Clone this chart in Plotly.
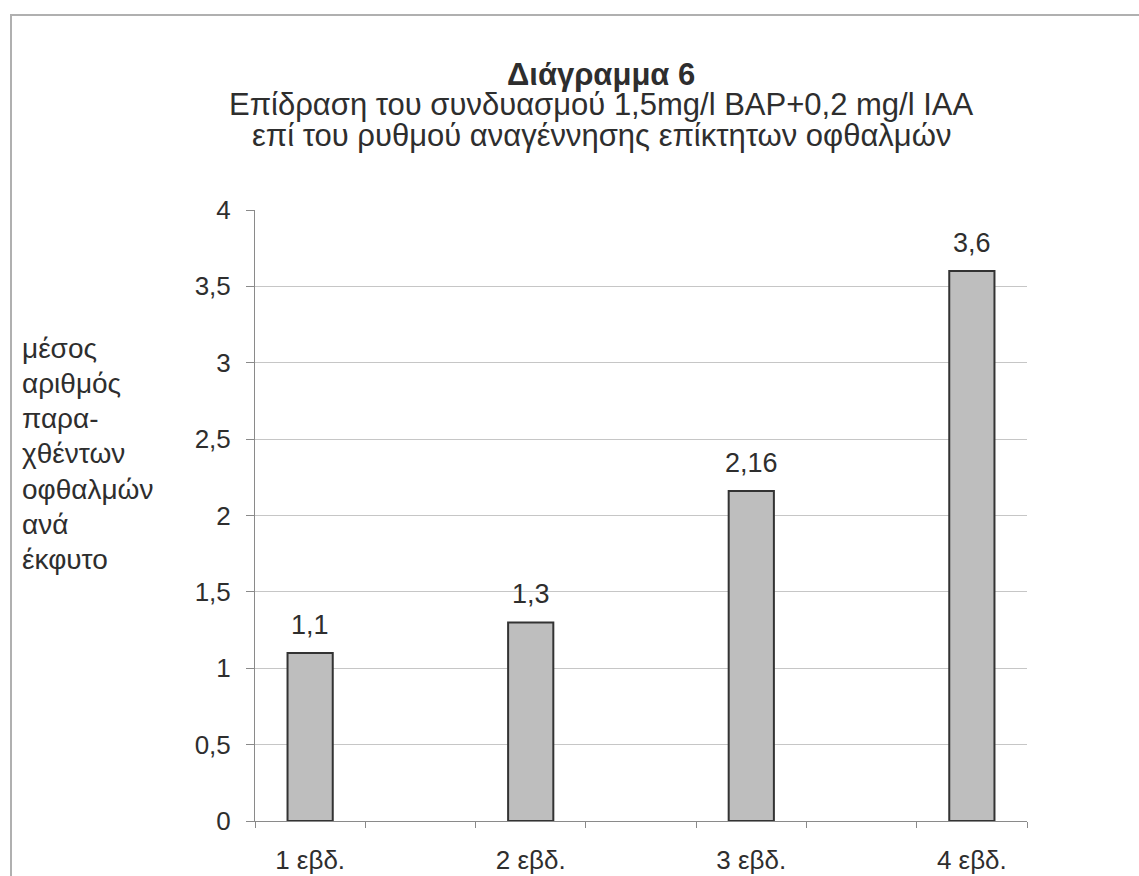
import plotly.graph_objects as go

# Data
categories = ["1 εβδ.", "2 εβδ.", "3 εβδ.", "4 εβδ."]
positions = [0, 2, 4, 6]
values = [1.1, 1.3, 2.16, 3.6]
y_ticks = [0, 0.5, 1, 1.5, 2, 2.5, 3, 3.5, 4]
y_tick_labels = ["0", "0,5", "1", "1,5", "2", "2,5", "3", "3,5", "4"]
title_lines = [
    "<b>Διάγραμμα 6</b>",
    "Επίδραση του συνδυασμού 1,5mg/l BAP+0,2 mg/l IAA",
    "επί του ρυθμού αναγέννησης επίκτητων οφθαλμών",
]
ylabel_lines = ["μέσος", "αριθμός", "παρα-", "χθέντων", "οφθαλμών", "ανά", "έκφυτο"]

W, H = 1139, 876
L, R, T, B = 255, 112, 210, 55
PW, PH = W - L - R, H - T - B
FONT = "Liberation Sans, Arial, sans-serif"
TXT = "#2e2e2e"


def px_x(px):
    return (px - L) / PW


def px_y(py):
    return (H - B - py) / PH


fig = go.Figure()
fig.add_trace(go.Bar(
    x=positions, y=values, width=0.41,
    marker=dict(color="#bebebe", line=dict(color="#333333", width=2)),
    hoverinfo="skip",
))

# value labels
for p, v in zip(positions, values):
    fig.add_annotation(x=p, y=v, xref="x", yref="y", text=str(v).replace(".", ","),
                       showarrow=False, yanchor="bottom", yshift=11,
                       font=dict(family=FONT, size=27, color=TXT))

# titles
title_y = [75, 104, 136]
for line, yy in zip(title_lines, title_y):
    fig.add_annotation(x=px_x(601), y=px_y(yy), xref="paper", yref="paper",
                       text=line, showarrow=False, xanchor="center", yanchor="middle",
                       font=dict(family=FONT, size=31, color=TXT))

# y-axis title lines
for i, line in enumerate(ylabel_lines):
    yy = 348 + i * 35.3
    fig.add_annotation(x=px_x(20), y=px_y(yy), xref="paper", yref="paper",
                       text=line, showarrow=False, xanchor="left", yanchor="middle",
                       font=dict(family=FONT, size=28, color=TXT))

# frame
fig.add_shape(type="line", xref="paper", yref="paper",
              x0=px_x(10), x1=px_x(W), y0=px_y(15), y1=px_y(15),
              line=dict(color="#b0b0b0", width=2), layer="below")
fig.add_shape(type="line", xref="paper", yref="paper",
              x0=px_x(11), x1=px_x(11), y0=px_y(H), y1=px_y(15),
              line=dict(color="#b0b0b0", width=2), layer="below")

fig.update_layout(
    width=W, height=H,
    margin=dict(l=L, r=R, t=T, b=B, pad=0, autoexpand=False),
    paper_bgcolor="white", plot_bgcolor="white",
    showlegend=False,
    separators=",.",
    font=dict(family=FONT, color=TXT),
    xaxis=dict(
        range=[-0.5, 6.5], tickvals=positions, ticktext=categories,
        ticks="", showgrid=False, zeroline=False, automargin=False,
        showline=True, linecolor="#8a8a8a", linewidth=1,
        tickfont=dict(family=FONT, size=26, color=TXT),
        ticklabelstandoff=16,
        minor=dict(tick0=-0.5, dtick=1, ticks="outside", ticklen=6,
                   tickcolor="#8a8a8a", tickwidth=1, showgrid=False),
    ),
    yaxis=dict(
        range=[0, 4], tickvals=y_ticks, ticktext=y_tick_labels,
        ticks="outside", ticklen=8, tickcolor="#8a8a8a", automargin=False,
        showgrid=True, gridcolor="#c6c6c6", gridwidth=1,
        zeroline=False, showline=True, linecolor="#8a8a8a", linewidth=1,
        tickfont=dict(family=FONT, size=26, color=TXT),
        ticklabelstandoff=10,
    ),
)

fig.write_html("out.html")
